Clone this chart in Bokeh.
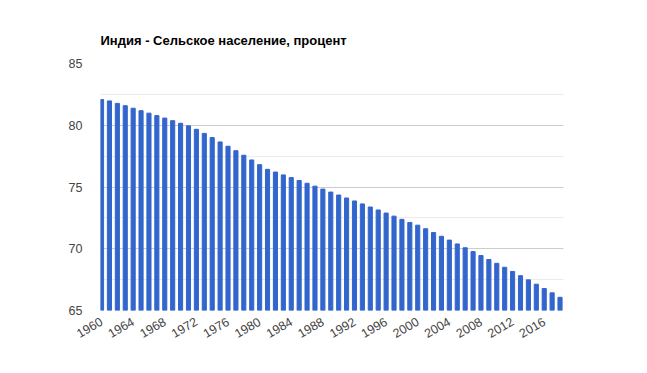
import math
from bokeh.plotting import figure
from bokeh.models import FixedTicker, ColumnDataSource
from bokeh.embed import file_html
from bokeh.resources import INLINE

years = list(range(1960, 2019))
rural_pct = [82.08, 81.97, 81.77, 81.58, 81.38, 81.18, 80.98, 80.78, 80.58, 80.37,
             80.16, 79.95, 79.67, 79.34, 79.00, 78.65, 78.30, 77.94, 77.57, 77.19,
             76.81, 76.43, 76.21, 75.98, 75.76, 75.53, 75.30, 75.07, 74.83, 74.59,
             74.35, 74.11, 73.87, 73.63, 73.38, 73.14, 72.89, 72.64, 72.38, 72.13,
             71.91, 71.62, 71.31, 71.01, 70.70, 70.39, 70.08, 69.77, 69.45, 69.13,
             68.82, 68.50, 68.16, 67.82, 67.48, 67.13, 66.78, 66.43, 66.07]
x_ticks = list(range(1960, 2017, 4))
y_ticks = [65, 70, 75, 80, 85]
y_minor = [67.5, 72.5, 77.5, 82.5]
title_text = "Индия - Сельское население, процент"

src = ColumnDataSource(dict(year=years, val=rural_pct))

p = figure(width=631, height=357, output_backend="svg", toolbar_location=None,
           x_range=(1959.87, 2018.44), y_range=(65, 85), title=title_text)
p.min_border_left = 100
p.min_border_right = 68
p.min_border_bottom = 47
p.min_border_top = 63
p.outline_line_color = None

p.title.text_font = "Liberation Sans"
p.title.text_font_size = "13px"
p.title.text_font_style = "bold"
p.title.text_color = "#000000"
p.title.standoff = 31
p.title.offset = 0

p.vbar(x="year", top="val", bottom=65, width=0.52, color="#3366cc", source=src)

p.xaxis.ticker = FixedTicker(ticks=x_ticks)
p.yaxis.ticker = FixedTicker(ticks=y_ticks, minor_ticks=y_minor)
p.xaxis.major_label_orientation = math.pi / 6
for ax in (p.xaxis[0], p.yaxis[0]):
    ax.axis_line_color = None
    ax.major_tick_line_color = None
    ax.minor_tick_line_color = None
    ax.major_label_text_font = "Liberation Sans"
    ax.major_label_text_font_size = "12.5px"
    ax.major_label_text_color = "#444444"
p.yaxis.major_label_standoff = 12
p.xaxis.major_label_standoff = 4

p.xgrid.grid_line_color = None
p.ygrid.grid_line_color = "#cccccc"
p.ygrid.minor_grid_line_color = "#ebebeb"

open("out.html", "w").write(file_html(p, INLINE))
